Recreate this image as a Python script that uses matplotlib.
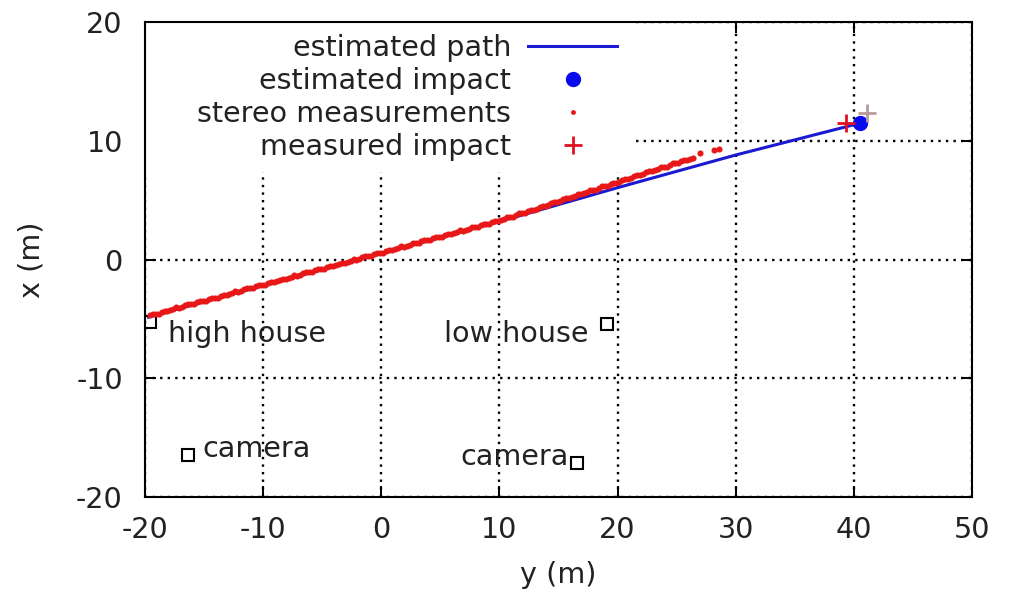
import matplotlib
matplotlib.use("Agg")
import matplotlib.pyplot as plt
from matplotlib.patches import Rectangle

# estimated trajectory (y, x) in metres
path_y = [-19.7, -10.0, 0.0, 10.0, 20.0, 30.0, 40.4]
path_x = [-4.85, -2.2, 0.5, 3.2, 6.05, 8.8, 11.45]

impact_est = (40.5, 11.5)
impact_meas = (39.3, 11.5)
impact_meas_alt = (41.1, 12.3)

# stereo measurements, first set of frames
stereo_y = [-19.6, -19.1, -18.6, -18.1, -17.6, -17.1, -16.6, -16.1, -15.6, -15.1,
            -14.6, -14.1, -13.6, -13.1, -12.6, -12.1, -11.6, -11.1, -10.6, -10.1,
            -9.6, -9.1, -8.6, -8.1, -7.6, -7.1, -6.6, -6.1, -5.6, -5.1,
            -4.6, -4.1, -3.6, -3.1, -2.6, -2.1, -1.6, -1.1, -0.6, -0.1,
            0.4, 0.9, 1.4, 1.9, 2.4, 2.9, 3.4, 3.9, 4.4, 4.9,
            5.4, 5.9, 6.4, 6.9, 7.4, 7.9, 8.4, 8.9, 9.4, 9.9,
            10.4, 10.9, 11.4, 11.9, 12.4, 12.9, 13.4, 13.9, 14.4, 14.9,
            15.4, 15.9, 16.4, 16.9, 17.4, 17.9, 18.4, 18.9, 19.4, 19.9,
            20.4, 20.9, 21.4, 21.9, 22.4, 22.9, 23.4, 23.9, 24.4, 24.9,
            25.4, 25.9, 26.4, 27.0, 28.2, 28.6]
stereo_x = [-4.70, -4.60, -4.41, -4.32, -4.13, -4.05, -3.87, -3.78, -3.60, -3.51,
            -3.33, -3.24, -3.06, -2.97, -2.79, -2.70, -2.52, -2.43, -2.25, -2.16,
            -1.98, -1.89, -1.71, -1.62, -1.44, -1.35, -1.17, -1.08, -0.90, -0.81,
            -0.63, -0.54, -0.36, -0.27, -0.09, 0.00, 0.18, 0.27, 0.45, 0.54,
            0.72, 0.81, 0.99, 1.08, 1.26, 1.35, 1.53, 1.62, 1.80, 1.89,
            2.07, 2.16, 2.34, 2.43, 2.61, 2.70, 2.88, 2.97, 3.15, 3.24,
            3.44, 3.56, 3.77, 3.89, 4.09, 4.21, 4.41, 4.54, 4.74, 4.86,
            5.06, 5.18, 5.39, 5.51, 5.71, 5.83, 6.03, 6.16, 6.36, 6.48,
            6.68, 6.80, 7.01, 7.13, 7.33, 7.45, 7.65, 7.78, 7.98, 8.10,
            8.30, 8.42, 8.58, 8.95, 9.20, 9.30]

# stereo measurements, second set of frames
stereo_y2 = [-19.35, -18.85, -18.35, -17.85, -17.35, -16.85, -16.35, -15.85, -15.35, -14.85,
             -14.35, -13.85, -13.35, -12.85, -12.35, -11.85, -11.35, -10.85, -10.35, -9.85,
             -9.35, -8.85, -8.35, -7.85, -7.35, -6.85, -6.35, -5.85, -5.35, -4.85,
             -4.35, -3.85, -3.35, -2.85, -2.35, -1.85, -1.35, -0.85, -0.35, 0.15,
             0.65, 1.15, 1.65, 2.15, 2.65, 3.15, 3.65, 4.15, 4.65, 5.15,
             5.65, 6.15, 6.65, 7.15, 7.65, 8.15, 8.65, 9.15, 9.65, 10.15,
             10.65, 11.15, 11.65, 12.15, 12.65, 13.15, 13.65, 14.15, 14.65, 15.15,
             15.65, 16.15, 16.65, 17.15, 17.65, 18.15, 18.65, 19.15, 19.65, 20.15,
             20.65, 21.15, 21.65, 22.15, 22.65, 23.15, 23.65, 24.15, 24.65, 25.15,
             25.65, 26.15]
stereo_x2 = [-4.59, -4.55, -4.31, -4.28, -4.03, -4.01, -3.77, -3.74, -3.50, -3.47,
             -3.23, -3.20, -2.96, -2.93, -2.69, -2.66, -2.42, -2.39, -2.15, -2.12,
             -1.88, -1.85, -1.61, -1.58, -1.34, -1.31, -1.07, -1.04, -0.80, -0.77,
             -0.53, -0.50, -0.26, -0.23, 0.02, 0.04, 0.29, 0.31, 0.56, 0.58,
             0.83, 0.85, 1.10, 1.12, 1.37, 1.39, 1.64, 1.66, 1.91, 1.93,
             2.18, 2.20, 2.45, 2.47, 2.72, 2.74, 2.99, 3.01, 3.26, 3.29,
             3.56, 3.62, 3.89, 3.94, 4.21, 4.26, 4.54, 4.59, 4.86, 4.91,
             5.18, 5.24, 5.51, 5.56, 5.83, 5.88, 6.16, 6.21, 6.48, 6.53,
             6.80, 6.86, 7.13, 7.18, 7.45, 7.50, 7.78, 7.83, 8.10, 8.15,
             8.42, 8.45]

# site markers and their labels
sites_y = [-19.6, 19.1, -16.4, 16.6]
sites_x = [-5.3, -5.4, -16.5, -17.1]
site_labels = ["high house", "low house", "camera", "camera"]
label_pos = [(-18.05, -6.95, "left"), (17.5, -6.95, "right"),
             (-15.15, -16.65, "left"), (6.7, -17.3, "left")]

plt.rcParams["font.family"] = "DejaVu Sans"
plt.rcParams["font.size"] = 20.6
plt.rcParams["axes.unicode_minus"] = False

fig = plt.figure(figsize=(10.12, 5.9), dpi=100)
ax = fig.add_axes([0.1433, 0.1576, 0.8172, 0.8051])

red = "#e81818"
ax.plot(path_y, path_x, color="#1a1ad0", lw=2.2, label="estimated path", zorder=3)
ax.plot([impact_est[0]], [impact_est[1]], "o", color="#0a0aee", ms=10,
        label="estimated impact", zorder=4)
ax.plot(stereo_y, stereo_x, "o", color=red, ms=4.4, mew=0,
        label="stereo measurements", zorder=5)
ax.plot(stereo_y2, stereo_x2, "o", color=red, ms=4.4, mew=0, zorder=5)
ax.plot([impact_meas[0]], [impact_meas[1]], "+", color="#e01020", ms=13, mew=2,
        label="measured impact", zorder=6)
ax.plot([impact_meas_alt[0]], [impact_meas_alt[1]], "+", color="#b89a9a", ms=13,
        mew=2, zorder=6)

ax.plot(sites_y, sites_x, "s", mfc="none", mec="black", ms=8, mew=1.5, ls="none",
        zorder=4)
for (ty, tx, ha), txt in zip(label_pos, site_labels):
    ax.text(ty, tx, txt, ha=ha, va="baseline", color="#222222", zorder=5)

ax.set_xlim(-20, 50)
ax.set_ylim(-20, 20)
ax.set_xticks(range(-20, 51, 10))
ax.set_yticks(range(-20, 21, 10))
ax.grid(True, color="black", lw=1.7, ls=(0, (1, 2.2)))
ax.set_axisbelow(True)

# no grid behind the key
ax.add_patch(Rectangle((0, 0.684), 0.589, 0.316, transform=ax.transAxes,
                       facecolor="white", edgecolor="none", zorder=1))

ax.tick_params(direction="in", length=8, width=1.4, top=True, right=True,
               colors="black", labelcolor="#222222")
ax.tick_params(axis="y", pad=16)
ax.tick_params(axis="x", pad=14)
for sp in ax.spines.values():
    sp.set_linewidth(1.5)

ax.set_xlabel("y (m)", color="#222222", labelpad=12)
ax.set_ylabel("x (m)", color="#222222", labelpad=22)

leg = ax.legend(loc="upper right", bbox_to_anchor=(617 / 1012, 1 - 34 / 590),
                bbox_transform=fig.transFigure, frameon=False, markerfirst=False,
                handlelength=3.1, handletextpad=0.6, labelspacing=0.17,
                borderpad=0, borderaxespad=0, numpoints=1)
leg.legend_handles[2].set_markersize(3.5)
for t in leg.get_texts():
    t.set_color("#222222")

fig.savefig("out.png", dpi=100)
